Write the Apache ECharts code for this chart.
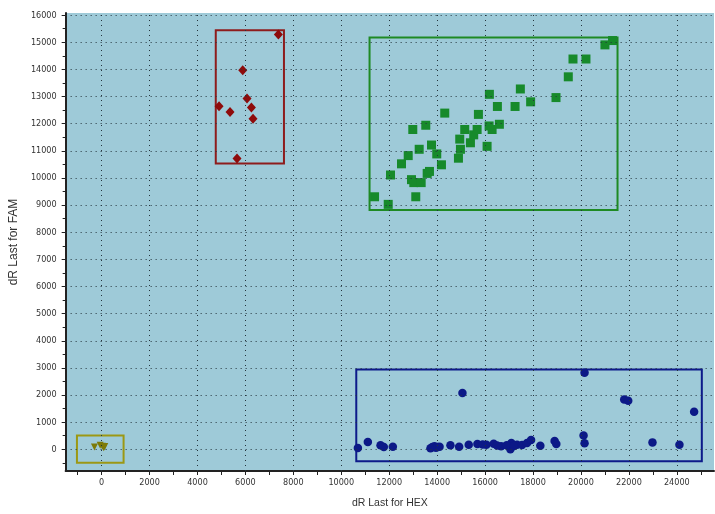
<!DOCTYPE html>
<html><head><meta charset="utf-8">
<script src="https://cdn.jsdelivr.net/npm/echarts@6/dist/echarts.min.js"></script>
<style>html,body{margin:0;padding:0;background:#fff}#c{width:715px;height:514px}</style>
</head><body><div id="c"></div>
<script>
// HEX (x), FAM (y)
const redPts = [[4900,12646],[5358,12427],[5650,10714],[5888,13972],[6067,12926],[6250,12598],[6317,12187],[7375,15284]];
const greenPts = [[11388,9307],[11958,9027],[12054,10109],[12513,10521],[12792,10824],[12983,11786],[12929,9938],[13025,9829],[13333,9829],[13108,9307],[13250,11057],[13525,11943],[13583,10168],[13679,10241],[13763,11214],[13983,10886],[14179,10485],[14317,12391],[14888,10729],[14971,11057],[14942,11432],[15150,11786],[15388,11297],[15525,11589],[15667,11786],[15721,12343],[16083,11166],[16167,11917],[16292,11786],[16596,11979],[16179,13083],[16513,12635],[17250,12635],[17471,13280],[17900,12806],[18958,12963],[19471,13728],[19667,14384],[20208,14384],[21000,14905],[21317,15065]];
const bluePts = [[10692,51],[11108,270],[11637,146],[11775,87],[12150,98],[13721,36],[13800,80],[13888,109],[13950,60],[14025,87],[14100,95],[14554,146],[14917,98],[15317,171],[15679,197],[16054,171],[16358,208],[16667,109],[17054,0],[17096,233],[17333,171],[17542,160],[17750,233],[17917,343],[18304,135],[18900,306],[18971,197],[20108,510],[20150,219],[20150,2821],[21804,1837],[21971,1786],[22983,255],[24108,171],[24721,1385],[15054,2077],[16900,150],[17200,120],[15900,180],[16500,140]];
const olivePts = [[-300,80],[-60,150],[30,110],[90,60],[130,100]];
// cluster boxes: [xMin, yMax, xMax, yMin]
const redBox = [4763,15441,7608,10532];
const greenBox = [11179,15175,21525,8819];
const blueBox = [10625,2941,25042,-437];
const oliveBox = [-1029,510,917,-496];
// axis ticks
const xLabels = [0,2000,4000,6000,8000,10000,12000,14000,16000,18000,20000,22000,24000];
const xMinor = [-1000,1000,3000,5000,7000,9000,11000,13000,15000,17000,19000,21000,23000,25000];
const yLabels = [0,1000,2000,3000,4000,5000,6000,7000,8000,9000,10000,11000,12000,13000,14000,15000,16000];
const yMinor = [-500,500,1500,2500,3500,4500,5500,6500,7500,8500,9500,10500,11500,12500,13500,14500,15500];

const X_MIN=-1500, X_MAX=25550, Y_MIN=-800, Y_MAX=16080;
const font = 'Liberation Sans, Arial, sans-serif';
const narrow = '"Liberation Sans Narrow", "DejaVu Sans Condensed", Arial, sans-serif';

function box(b,color){
  return {silent:true,itemStyle:{color:'rgba(0,0,0,0)',borderColor:color,borderWidth:2},
    data:[[{coord:[b[0],b[1]]},{coord:[b[2],b[3]]}]]};
}
const gridData = xLabels.map(v=>({xAxis:v})).concat(yLabels.map(v=>({yAxis:v})));

const chart = echarts.init(document.getElementById('c'));
chart.setOption({
  animation:false,
  backgroundColor:'#fff',
  grid:{left:64,right:1,top:13,bottom:37,show:true,backgroundColor:'#9ecad8',borderWidth:0},
  xAxis:[{
    type:'value',min:X_MIN,max:X_MAX,
    name:'dR Last for HEX',nameLocation:'middle',nameGap:27,
    nameTextStyle:{fontFamily:font,fontSize:10.5,color:'#333'},
    axisLine:{show:true,onZero:false,lineStyle:{color:'#222',width:2}},
    axisTick:{show:true,length:4,lineStyle:{color:'#222'},customValues:xLabels},
    axisLabel:{show:true,margin:7,fontFamily:narrow,fontSize:9,color:'#333',customValues:xLabels,formatter:v=>String(v)},
    splitLine:{show:false}
  },{
    type:'value',min:X_MIN,max:X_MAX,position:'bottom',
    axisLine:{show:false,onZero:false},
    axisTick:{show:true,length:4,lineStyle:{color:'#222'},customValues:xMinor},
    axisLabel:{show:false},splitLine:{show:false}
  }],
  yAxis:[{
    type:'value',min:Y_MIN,max:Y_MAX,
    name:'dR Last for FAM',nameLocation:'middle',nameGap:44,
    nameTextStyle:{fontFamily:font,fontSize:12,color:'#333'},
    axisLine:{show:true,onZero:false,lineStyle:{color:'#222',width:2}},
    axisTick:{show:true,length:4,lineStyle:{color:'#222'},customValues:yLabels},
    axisLabel:{show:true,margin:9,fontFamily:narrow,fontSize:9,color:'#333',customValues:yLabels,formatter:v=>String(v)},
    splitLine:{show:false}
  },{
    type:'value',min:Y_MIN,max:Y_MAX,position:'left',
    axisLine:{show:false,onZero:false},
    axisTick:{show:true,length:3,lineStyle:{color:'#222'},customValues:yMinor},
    axisLabel:{show:false},splitLine:{show:false}
  }],
  series:[
    {type:'scatter',data:[],silent:true,
     markLine:{silent:true,symbol:'none',label:{show:false},animation:false,
       lineStyle:{color:'#24343c',type:[1,4],width:1},emphasis:{disabled:true},data:gridData}},
    {type:'scatter',data:olivePts,symbol:'triangle',symbolRotate:180,symbolSize:7,itemStyle:{color:'#7d7a08',opacity:1},markArea:box(oliveBox,'#9c9814')},
    {type:'scatter',data:redPts,symbol:'diamond',symbolSize:[9,10],itemStyle:{color:'#8e0b0b',opacity:1},markArea:box(redBox,'#8e1c1c')},
    {type:'scatter',data:greenPts,symbol:'rect',symbolSize:9,itemStyle:{color:'#178a2b',opacity:1},markArea:box(greenBox,'#1e8a24')},
    {type:'scatter',data:bluePts,symbol:'circle',symbolSize:8.5,itemStyle:{color:'#0c1987',opacity:1},markArea:box(blueBox,'#0d1a8a')}
  ]
});
</script></body></html>
